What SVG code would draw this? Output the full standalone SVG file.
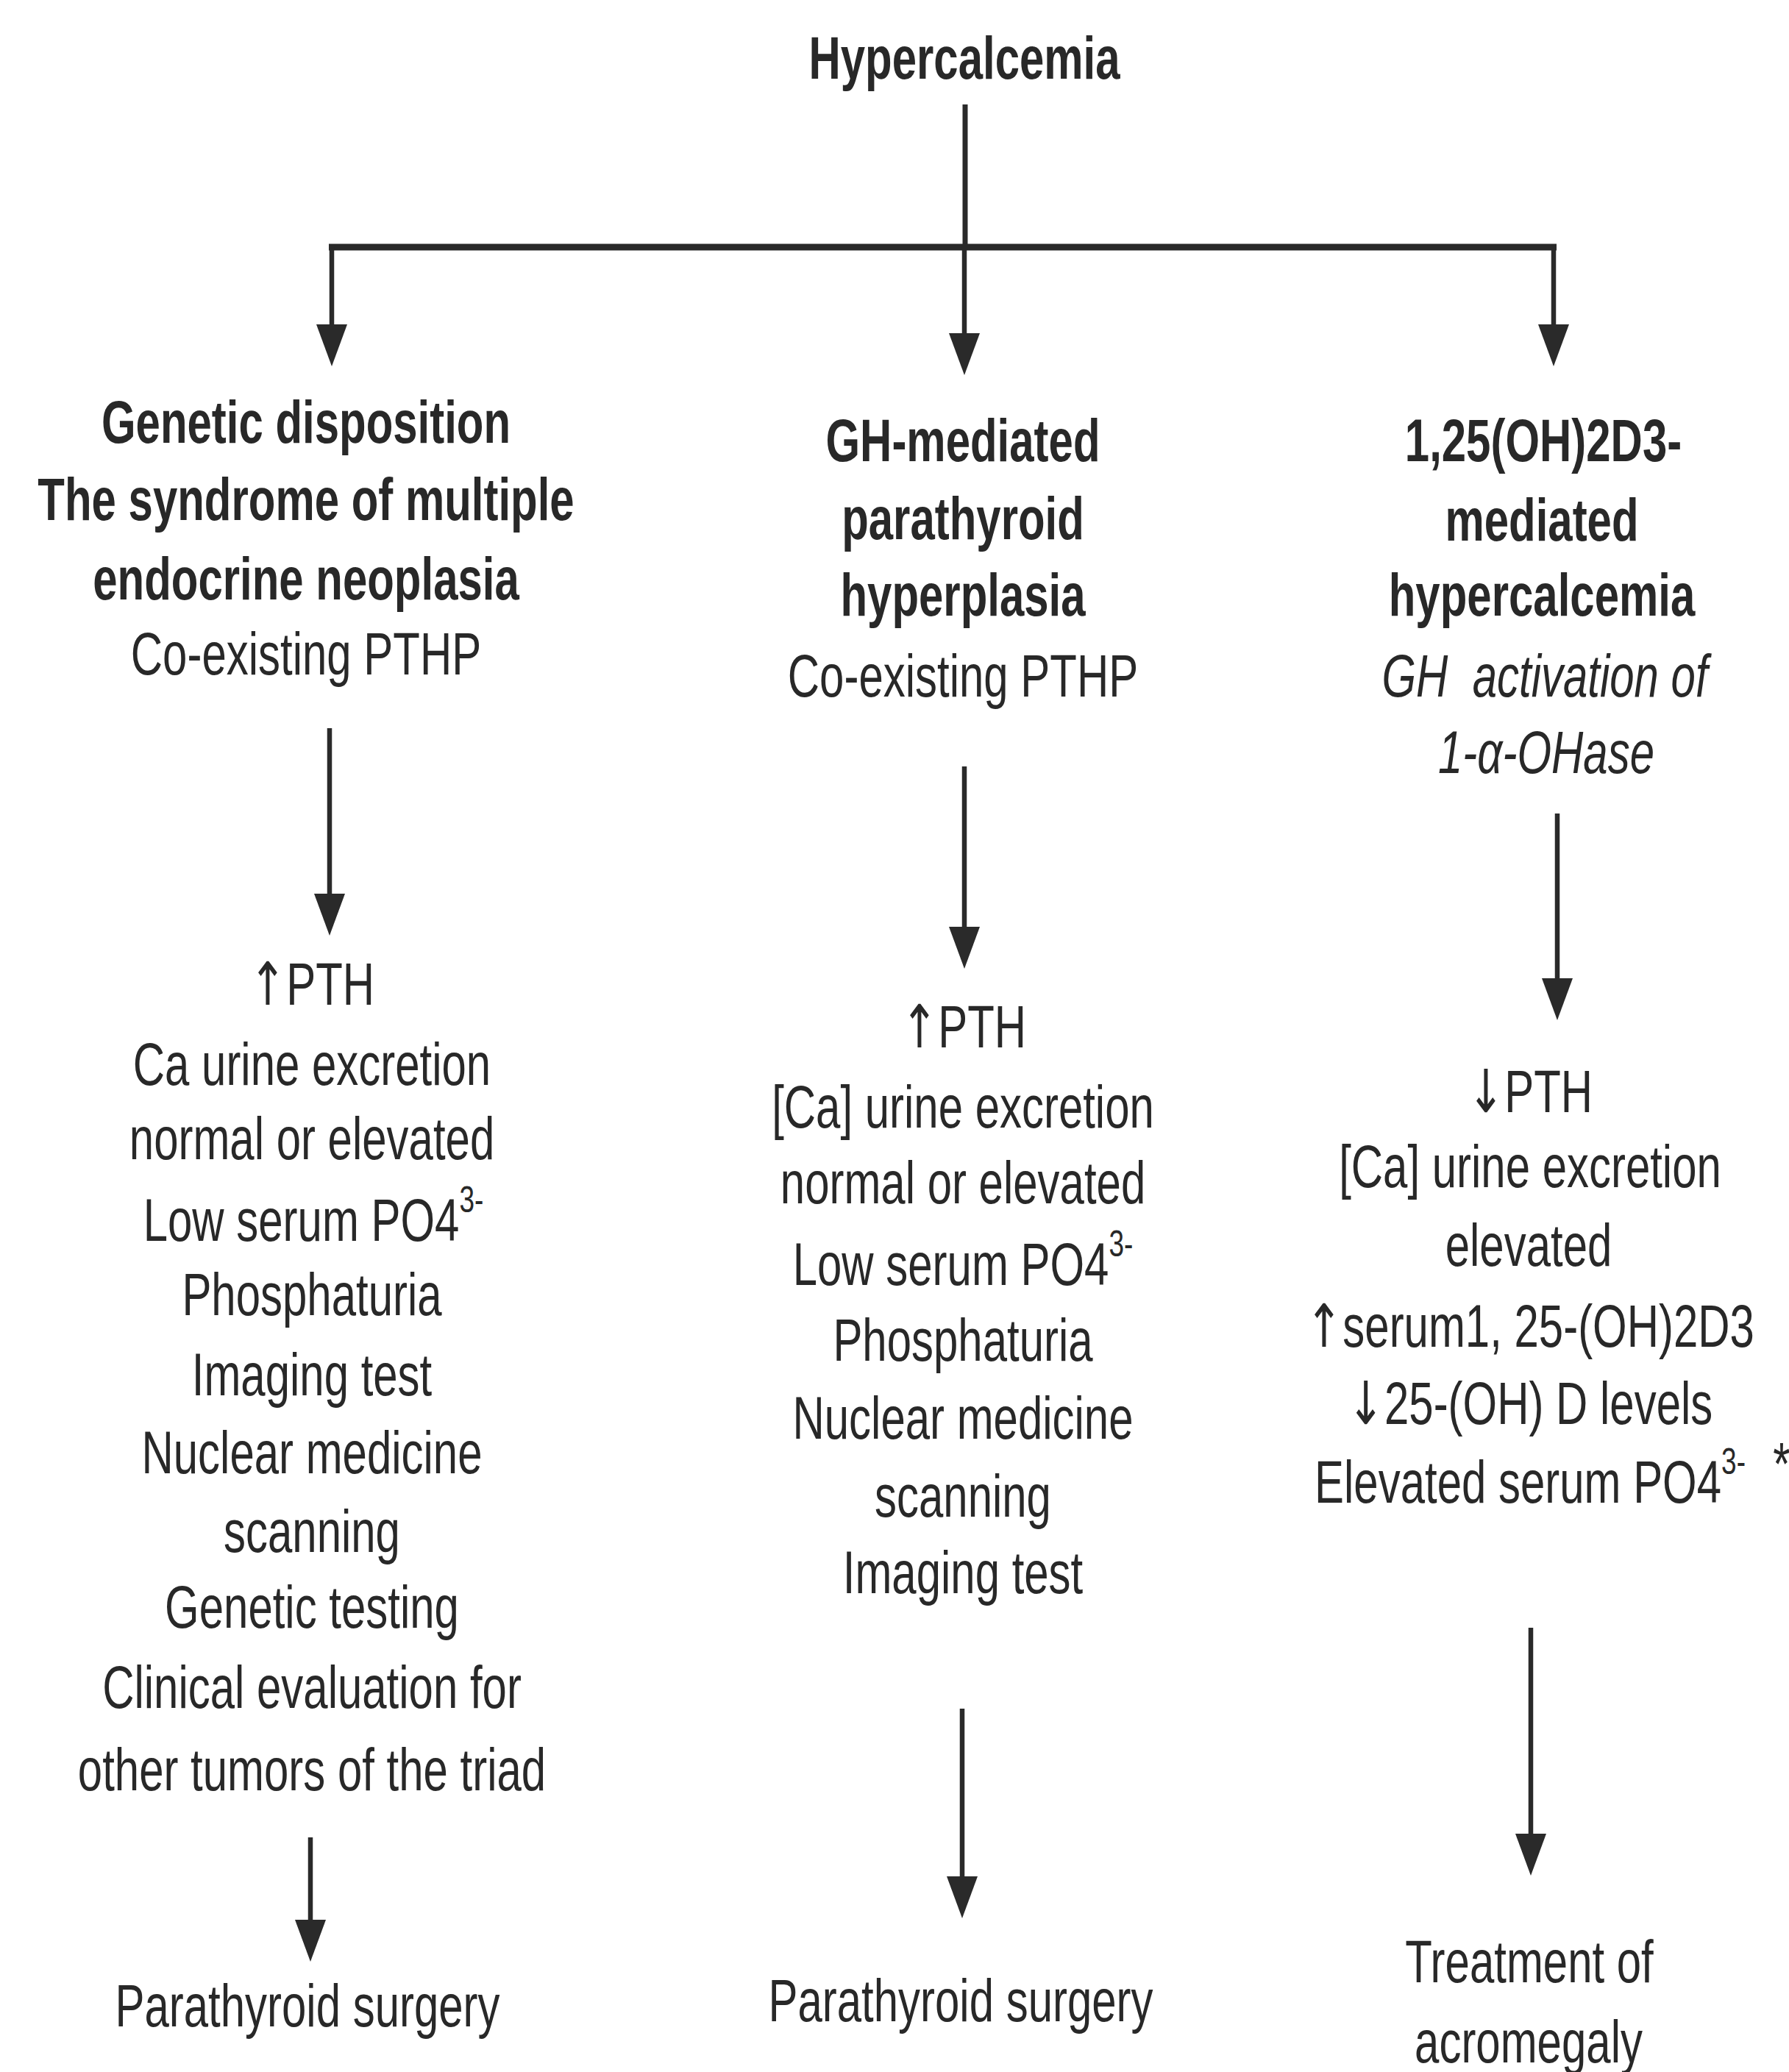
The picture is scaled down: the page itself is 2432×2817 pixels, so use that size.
<svg xmlns="http://www.w3.org/2000/svg" width="2432" height="2817" viewBox="0 0 2432 2817">
<style>
.t{font-family:"Liberation Sans",Arial,sans-serif;font-size:81px;fill:#282828;text-anchor:middle}
.b{font-weight:bold}
.i{font-style:italic}
.sup{font-size:50px}
.arw{font-family:"DejaVu Sans",sans-serif}
.ln{fill:none;stroke:#2a2a2a;stroke-width:7}
.hz{fill:none;stroke:#2a2a2a;stroke-width:9}
.ar{fill:none;stroke:#2a2a2a;stroke-width:6.5;marker-end:url(#ah)}
</style>
<defs>
<marker id="ah" markerUnits="userSpaceOnUse" viewBox="0 0 57 42" refX="0" refY="21" markerWidth="57" markerHeight="42" orient="auto">
<path d="M0,0 L57,21 L0,42 z" fill="#2a2a2a"/>
</marker>
</defs>
<rect width="2432" height="2817" fill="#ffffff"/>

<g id="connectors">
<path class="ln" d="M1312,142 V336" stroke-width="6"/>
<path class="hz" d="M447,336 H2116"/>
<path class="ar" d="M451,336 V441"/>
<path class="ar" d="M1311,336 V453"/>
<path class="ar" d="M2112,336 V441"/>
<path class="ar" d="M448,990 V1215"/>
<path class="ar" d="M1311,1042 V1260"/>
<path class="ar" d="M2117,1106 V1330"/>
<path class="ar" d="M422,2498 V2610"/>
<path class="ar" d="M1308,2323 V2551"/>
<path class="ar" d="M2081,2213 V2493"/>
</g>

<g id="n-hypercalcemia">
<text class="t b" transform="translate(1311,107) scale(0.74,1)">Hypercalcemia</text>
</g>

<g id="n-genetic">
<text class="t b" transform="translate(416,602) scale(0.74,1)">Genetic disposition</text>
<text class="t b" transform="translate(416,707) scale(0.74,1)">The syndrome of multiple</text>
<text class="t b" transform="translate(416,815) scale(0.74,1)">endocrine neoplasia</text>
<text class="t" transform="translate(416,917) scale(0.74,1)">Co-existing PTHP</text>
</g>

<g id="n-gh">
<text class="t b" transform="translate(1309,627) scale(0.74,1)">GH-mediated</text>
<text class="t b" transform="translate(1309,733) scale(0.74,1)">parathyroid</text>
<text class="t b" transform="translate(1309,837) scale(0.74,1)">hyperplasia</text>
<text class="t" transform="translate(1309,947) scale(0.74,1)">Co-existing PTHP</text>
</g>

<g id="n-vitd">
<text class="t b" transform="translate(2098,627) scale(0.74,1)">1,25(OH)2D3-</text>
<text class="t b" transform="translate(2096,735) scale(0.74,1)">mediated</text>
<text class="t b" transform="translate(2096,837) scale(0.74,1)">hypercalcemia</text>
<text class="t i" xml:space="preserve" transform="translate(2100,947) scale(0.74,1)">GH  activation of</text>
<text class="t i" transform="translate(2102,1051) scale(0.74,1)">1-α-OHase</text>
</g>

<g id="n-left-findings">
<text class="t" transform="translate(424,1366) scale(0.74,1)"><tspan class="arw">↑</tspan>PTH</text>
<text class="t" transform="translate(424,1475) scale(0.74,1)">Ca urine excretion</text>
<text class="t" transform="translate(424,1576) scale(0.74,1)">normal or elevated</text>
<text class="t" transform="translate(426,1687) scale(0.74,1)">Low serum PO4<tspan class="sup" dy="-39">3-</tspan></text>
<text class="t" transform="translate(424,1788) scale(0.74,1)">Phosphaturia</text>
<text class="t" transform="translate(424,1897) scale(0.74,1)">Imaging test</text>
<text class="t" transform="translate(424,2003) scale(0.74,1)">Nuclear medicine</text>
<text class="t" transform="translate(424,2110) scale(0.74,1)">scanning</text>
<text class="t" transform="translate(424,2213) scale(0.74,1)">Genetic testing</text>
<text class="t" transform="translate(424,2322) scale(0.74,1)">Clinical evaluation for</text>
<text class="t" transform="translate(424,2434) scale(0.74,1)">other tumors of the triad</text>
</g>

<g id="n-mid-findings">
<text class="t" transform="translate(1310,1424) scale(0.74,1)"><tspan class="arw">↑</tspan>PTH</text>
<text class="t" transform="translate(1309,1533) scale(0.74,1)">[Ca] urine excretion</text>
<text class="t" transform="translate(1309,1636) scale(0.74,1)">normal or elevated</text>
<text class="t" transform="translate(1309,1747) scale(0.74,1)">Low serum PO4<tspan class="sup" dy="-39">3-</tspan></text>
<text class="t" transform="translate(1309,1850) scale(0.74,1)">Phosphaturia</text>
<text class="t" transform="translate(1309,1956) scale(0.74,1)">Nuclear medicine</text>
<text class="t" transform="translate(1309,2062) scale(0.74,1)">scanning</text>
<text class="t" transform="translate(1309,2166) scale(0.74,1)">Imaging test</text>
</g>

<g id="n-right-findings">
<text class="t" transform="translate(2080,1512) scale(0.74,1)"><tspan class="arw">↓</tspan>PTH</text>
<text class="t" transform="translate(2080,1614) scale(0.74,1)">[Ca] urine excretion</text>
<text class="t" transform="translate(2078,1721) scale(0.74,1)">elevated</text>
<text class="t" transform="translate(2080,1831) scale(0.74,1)"><tspan class="arw">↑</tspan>serum1, 25-(OH)2D3</text>
<text class="t" transform="translate(2080,1936) scale(0.74,1)"><tspan class="arw">↓</tspan>25-(OH) D levels</text>
<text class="t" transform="translate(2080,2043) scale(0.74,1)">Elevated serum PO4<tspan class="sup" dy="-39">3-</tspan></text>
<text class="t" transform="translate(2422,2018) scale(0.74,1)">*</text>
</g>

<g id="n-left-surgery">
<text class="t" transform="translate(418,2755) scale(0.74,1)">Parathyroid surgery</text>
</g>

<g id="n-mid-surgery">
<text class="t" transform="translate(1306,2748) scale(0.74,1)">Parathyroid surgery</text>
</g>

<g id="n-acromegaly">
<text class="t" transform="translate(2079,2695) scale(0.74,1)">Treatment of</text>
<text class="t" transform="translate(2078,2804) scale(0.74,1)">acromegaly</text>
</g>
</svg>
